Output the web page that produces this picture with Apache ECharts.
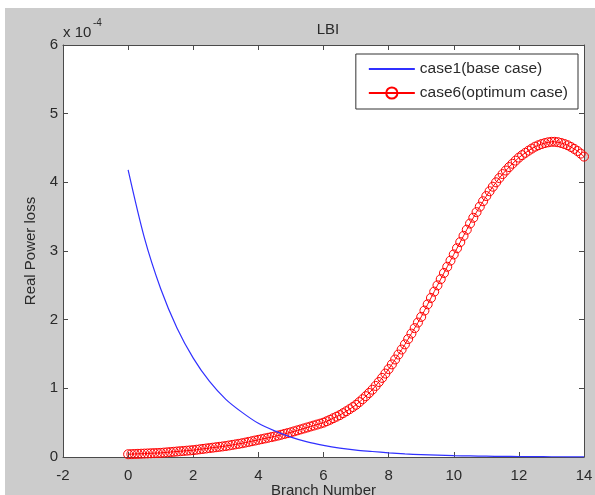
<!DOCTYPE html>
<html>
<head>
<meta charset="utf-8">
<title>LBI</title>
<script src="https://cdn.jsdelivr.net/npm/echarts@6/dist/echarts.min.js"></script>
<style>
  html, body { margin: 0; padding: 0; background: #ffffff; }
  #wrap { position: relative; width: 595px; height: 495px; overflow: hidden; filter: blur(0.5px); }
  #figbg { position: absolute; left: 5px; top: 8px; right: 0; bottom: 0; background: #cccccc; }
  #chart { position: absolute; left: 0; top: 0; width: 595px; height: 495px; }
</style>
</head>
<body>
<div id="wrap">
  <div id="figbg"></div>
  <div id="chart"></div>
</div>
<script>
// Real power loss (in units of 1e-4) along the branches.
const lossScaleExp = -4;

// case1 (base case): sampled every 0.5 branch from 0 to 14
const baseStep = 0.5;
const baseCaseLoss = [
  4.18, 3.19, 2.45, 1.88, 1.44, 1.10, 0.84, 0.65, 0.49, 0.38,
  0.29, 0.22, 0.17, 0.13, 0.10, 0.08, 0.06, 0.045, 0.035, 0.027,
  0.020, 0.016, 0.012, 0.009, 0.007, 0.005, 0.004, 0.003, 0.002
];

// case6 (optimum case): sampled every 0.1 branch from 0 to 14
const optStep = 0.1;
const optimumCaseLoss = [
  0.040, 0.042, 0.044, 0.046, 0.048, 0.050, 0.052, 0.054, 0.056, 0.058,
  0.060, 0.064, 0.068, 0.072, 0.076, 0.080, 0.084, 0.088, 0.092, 0.096,
  0.100, 0.106, 0.112, 0.118, 0.124, 0.130, 0.136, 0.142, 0.148, 0.154,
  0.160, 0.168, 0.176, 0.184, 0.192, 0.200, 0.210, 0.220, 0.230, 0.240,
  0.250, 0.260, 0.270, 0.280, 0.290, 0.300, 0.312, 0.324, 0.336, 0.348,
  0.360, 0.374, 0.388, 0.402, 0.416, 0.430, 0.444, 0.458, 0.472, 0.486,
  0.500, 0.521, 0.542, 0.565, 0.587, 0.610, 0.638, 0.666, 0.696, 0.727,
  0.760, 0.800, 0.842, 0.886, 0.932, 0.980, 1.035, 1.092, 1.152, 1.215,
  1.280, 1.349, 1.420, 1.492, 1.565, 1.640, 1.718, 1.797, 1.877, 1.958,
  2.040, 2.132, 2.224, 2.316, 2.408, 2.500, 2.590, 2.680, 2.770, 2.860,
  2.950, 3.040, 3.130, 3.220, 3.310, 3.400, 3.484, 3.566, 3.646, 3.724,
  3.800, 3.870, 3.936, 4.000, 4.062, 4.120, 4.172, 4.222, 4.270, 4.316,
  4.360, 4.396, 4.430, 4.462, 4.492, 4.520, 4.540, 4.558, 4.572, 4.583,
  4.590, 4.590, 4.584, 4.573, 4.558, 4.540, 4.515, 4.487, 4.456, 4.418,
  4.375
];

const seriesNames = ['case1(base case)', 'case6(optimum case)'];
const xTicks = { min: -2, max: 14, interval: 2 };
const yTicks = { min: 0, max: 6, interval: 1 };

const toPairs = (vals, step) => vals.map((v, i) => [+(i * step).toFixed(2), v]);

const font = "'Liberation Sans', Arial, sans-serif";
const textColor = '#2a2a2a';
const axisColor = '#4a4a4a';
const blue = '#3030ff';
const red = '#ff0000';

const chart = echarts.init(document.getElementById('chart'), null, { renderer: 'canvas' });

const boxAxis = (extra) => Object.assign({
  type: 'value',
  axisLine: { show: true, onZero: false, lineStyle: { color: axisColor, width: 1 } },
  axisTick: { show: true, inside: true, length: 5, lineStyle: { color: axisColor } },
  splitLine: { show: false },
}, extra);

chart.setOption({
  backgroundColor: 'transparent',
  animation: false,
  textStyle: { fontFamily: font },
  title: {
    text: 'LBI',
    left: 323, top: 17, textAlign: 'center',
    textStyle: { fontFamily: font, fontSize: 15, fontWeight: 'normal', color: textColor }
  },
  graphic: [
    { type: 'text', left: 63, top: 25,
      style: { text: 'x 10', font: '15px ' + font, fill: textColor } },
    { type: 'text', left: 93, top: 18,
      style: { text: String(lossScaleExp), font: '10px ' + font, fill: textColor } }
  ],
  grid: {
    left: 63, top: 45, right: 11, bottom: 38,
    containLabel: false, outerBoundsMode: 'none',
    show: true, backgroundColor: '#ffffff', borderWidth: 0
  },
  legend: {
    orient: 'vertical',
    right: 17, top: 54,
    backgroundColor: '#ffffff',
    borderColor: '#333333', borderWidth: 1,
    padding: [7, 10, 8, 12],
    itemWidth: 46, itemHeight: 14, itemGap: 8,
    textStyle: { fontFamily: font, fontSize: 15.5, color: textColor },
    data: [
      { name: seriesNames[0], itemStyle: { opacity: 0 } },
      { name: seriesNames[1] }
    ]
  },
  xAxis: [
    boxAxis({
      min: xTicks.min, max: xTicks.max, interval: xTicks.interval,
      position: 'bottom',
      name: 'Branch Number', nameLocation: 'middle', nameGap: 26,
      nameMoveOverlap: false,
      nameTextStyle: { fontFamily: font, fontSize: 15, color: textColor },
      axisLabel: { fontFamily: font, fontSize: 15, color: textColor, margin: 11 }
    }),
    boxAxis({
      min: xTicks.min, max: xTicks.max, interval: xTicks.interval,
      position: 'top', axisLabel: { show: false }
    })
  ],
  yAxis: [
    boxAxis({
      min: yTicks.min, max: yTicks.max, interval: yTicks.interval,
      position: 'left',
      name: 'Real Power loss', nameLocation: 'middle', nameGap: 25,
      nameMoveOverlap: false,
      nameTextStyle: { fontFamily: font, fontSize: 15, color: textColor },
      axisLabel: { fontFamily: font, fontSize: 15, color: textColor, margin: 5 }
    }),
    boxAxis({
      min: yTicks.min, max: yTicks.max, interval: yTicks.interval,
      position: 'right', axisLabel: { show: false }
    })
  ],
  series: [
    {
      name: seriesNames[0],
      type: 'line',
      xAxisIndex: 0, yAxisIndex: 0,
      data: toPairs(baseCaseLoss, baseStep),
      smooth: 0.3,
      showSymbol: false, symbol: 'none',
      color: blue,
      lineStyle: { width: 1.2, color: blue },
      z: 3
    },
    {
      name: seriesNames[1],
      type: 'line',
      xAxisIndex: 0, yAxisIndex: 0,
      data: toPairs(optimumCaseLoss, optStep),
      symbol: 'circle', symbolSize: 9, showAllSymbol: true,
      color: red,
      itemStyle: { color: 'rgba(255,0,0,0)', borderColor: red, borderWidth: 1 },
      lineStyle: { width: 1, color: red },
      z: 2
    }
  ]
});
</script>
</body>
</html>
